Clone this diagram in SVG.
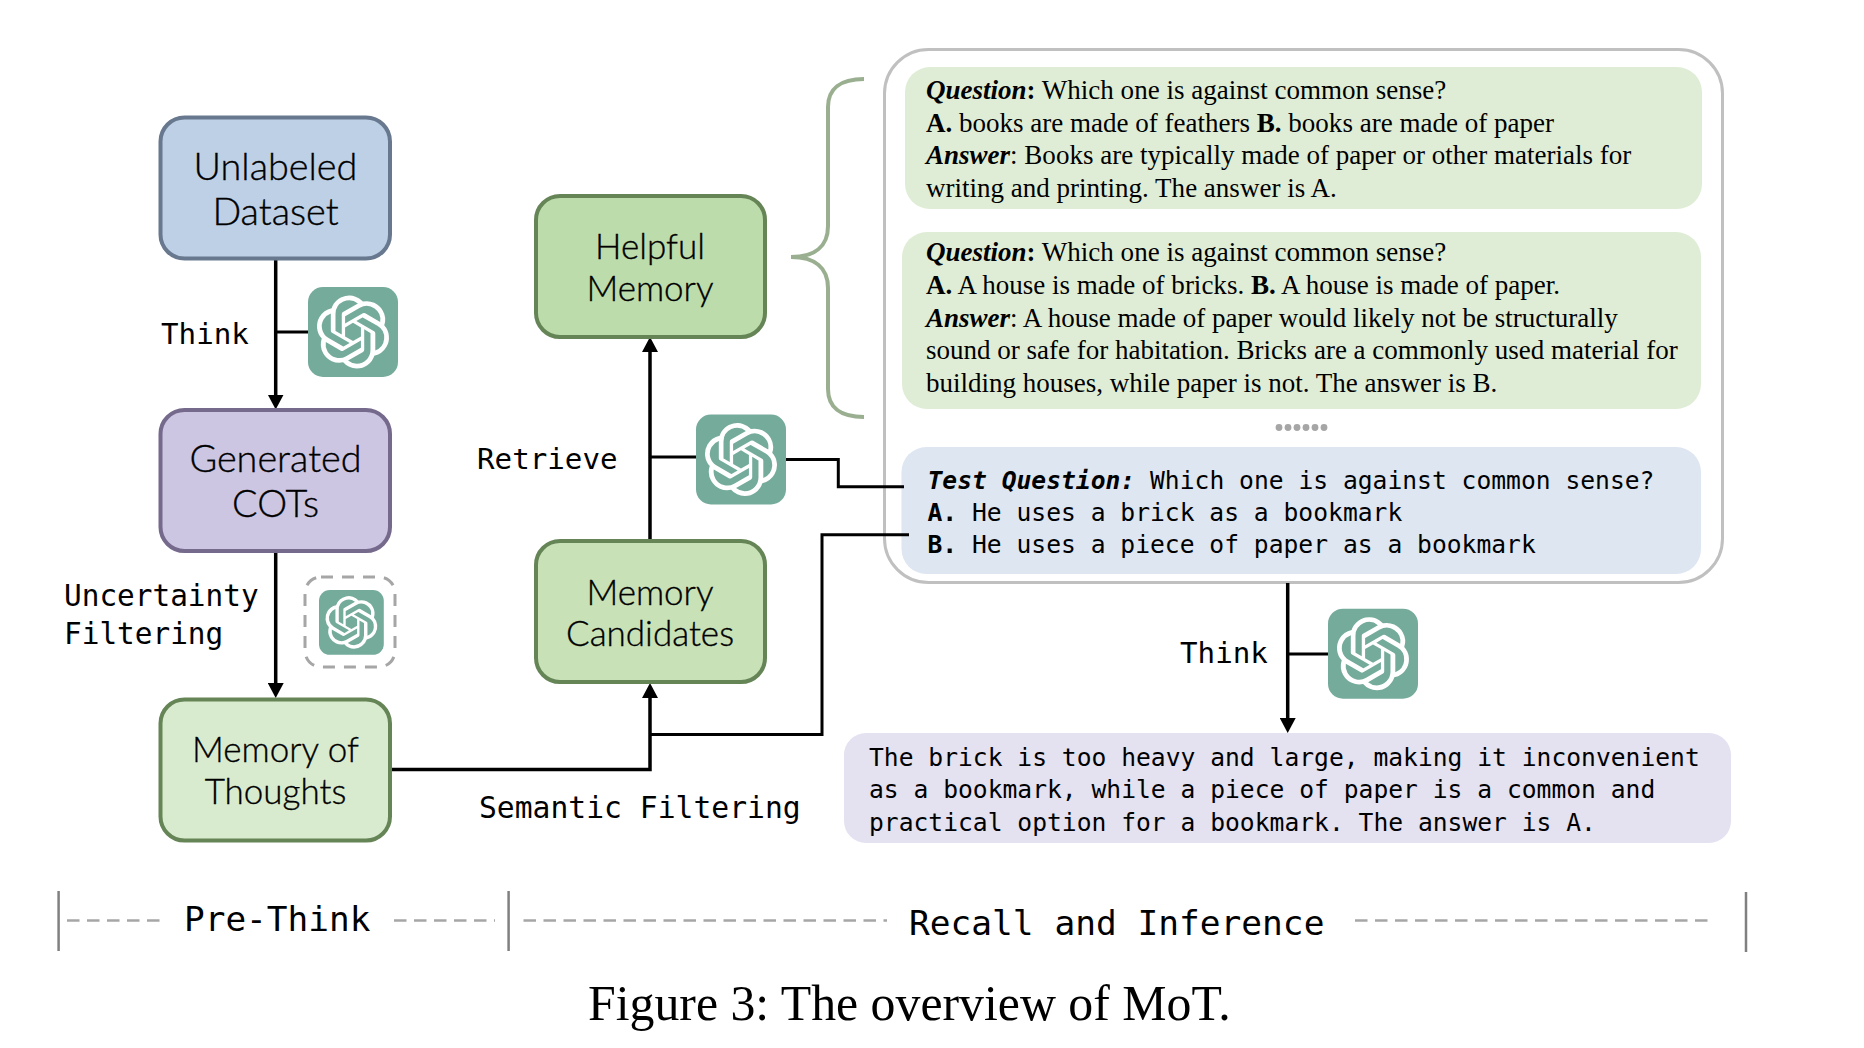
<svg xmlns="http://www.w3.org/2000/svg" xmlns:xlink="http://www.w3.org/1999/xlink" width="1864" height="1048" viewBox="0 0 1864 1048">
<style>
.node{stroke-width:4}
.nt{font-family:"Lato","Noto Sans",sans-serif;font-weight:300;fill:#000;stroke:#000;stroke-width:.35;text-anchor:middle}
.lb{font-family:"DejaVu Sans Mono",monospace;font-size:29.2px;fill:#000}
.se{font-family:"Liberation Serif",serif;font-size:27.03px;fill:#000}
.mo{font-family:"DejaVu Sans Mono",monospace;font-size:24.65px;fill:#000}
.b{font-weight:700}
.bi{font-weight:700;font-style:italic}
.cn{fill:none;stroke:#000;stroke-width:3}
.ar{fill:none;stroke:#000;stroke-width:3.5}
.tick{stroke:#808080;stroke-width:2.5}
.dash{stroke:#a6a6a6;stroke-width:2.5;stroke-dasharray:12.5 7.5;fill:none}
</style>
<defs>
<marker id="head" markerUnits="userSpaceOnUse" markerWidth="16" markerHeight="16" refX="7" refY="8" orient="auto"><path d="M0 0L15 8L0 16Z" fill="#000"/></marker>
<g id="gpt">
<rect width="90" height="90" rx="15" fill="#75ab9b"/>
<path transform="translate(8.5,8.5) scale(3.04)" fill="#fff" d="M22.2819 9.8211a5.9847 5.9847 0 0 0-.5157-4.9108 6.0462 6.0462 0 0 0-6.5098-2.9A6.0651 6.0651 0 0 0 4.9807 4.1818a5.9847 5.9847 0 0 0-3.9977 2.9 6.0462 6.0462 0 0 0 .7427 7.0966 5.98 5.98 0 0 0 .511 4.9107 6.051 6.051 0 0 0 6.5146 2.9001A5.9847 5.9847 0 0 0 13.2599 24a6.0557 6.0557 0 0 0 5.7718-4.2058 5.9894 5.9894 0 0 0 3.9977-2.9001 6.0557 6.0557 0 0 0-.7475-7.0729zm-9.022 12.6081a4.4755 4.4755 0 0 1-2.8764-1.0408l.1419-.0804 4.7783-2.7582a.7948.7948 0 0 0 .3927-.6813v-6.7369l2.02 1.1686a.071.071 0 0 1 .038.052v5.5826a4.504 4.504 0 0 1-4.4945 4.4944zm-9.6607-4.1254a4.4708 4.4708 0 0 1-.5346-3.0137l.142.0852 4.783 2.7582a.7712.7712 0 0 0 .7806 0l5.8428-3.3685v2.3324a.0804.0804 0 0 1-.0332.0615L9.74 19.9502a4.4992 4.4992 0 0 1-6.1408-1.6464zM2.3408 7.8956a4.485 4.485 0 0 1 2.3655-1.9728V11.6a.7664.7664 0 0 0 .3879.6765l5.8144 3.3543-2.0201 1.1685a.0757.0757 0 0 1-.071 0l-4.8303-2.7865A4.504 4.504 0 0 1 2.3408 7.872zm16.5963 3.8558L13.1038 8.364 15.1192 7.2a.0757.0757 0 0 1 .071 0l4.8303 2.7913a4.4944 4.4944 0 0 1-.6765 8.1042v-5.6772a.79.79 0 0 0-.407-.667zm2.0107-3.0231l-.142-.0852-4.7735-2.7818a.7759.7759 0 0 0-.7854 0L9.409 9.2297V6.8974a.0662.0662 0 0 1 .0284-.0615l4.8303-2.7866a4.4992 4.4992 0 0 1 6.6802 4.66zM8.3065 12.863l-2.02-1.1638a.0804.0804 0 0 1-.038-.0567V6.0742a4.4992 4.4992 0 0 1 7.3757-3.4537l-.142.0805L8.704 5.459a.7948.7948 0 0 0-.3927.6813zm1.0976-2.3654l2.602-1.4998 2.6069 1.4998v2.9994l-2.5974 1.4997-2.6067-1.4997Z"/>
</g>
</defs>
<rect width="1864" height="1048" fill="#fff"/>

<g id="brace"><path d="M864 79C840 79 828 89 828 107L828 226C828 246 815 257 791 257C815 257 828 268 828 288L828 389C828 407 840 417 864 417" fill="none" stroke="#9aaf90" stroke-width="4"/></g>

<g id="context-panel"><rect x="884.5" y="49.5" width="838" height="533" rx="44" fill="#fff" stroke="#c0c0c0" stroke-width="3"/></g>

<g id="example-1"><rect x="905" y="67" width="797" height="142" rx="25" fill="#dfedd6"/>
<text class="se" x="926" y="99"><tspan class="bi">Question</tspan><tspan class="b">:</tspan> Which one is against common sense?</text>
<text class="se" x="926" y="132"><tspan class="b">A.</tspan> books are made of feathers <tspan class="b">B.</tspan> books are made of paper</text>
<text class="se" x="926" y="164"><tspan class="bi">Answer</tspan>: Books are typically made of paper or other materials for</text>
<text class="se" x="926" y="197">writing and printing. The answer is A.</text></g>

<g id="example-2"><rect x="902" y="232" width="799" height="177" rx="25" fill="#dfedd6"/>
<text class="se" x="926" y="261"><tspan class="bi">Question</tspan><tspan class="b">:</tspan> Which one is against common sense?</text>
<text class="se" x="926" y="294"><tspan class="b">A.</tspan> A house is made of bricks. <tspan class="b">B.</tspan> A house is made of paper.</text>
<text class="se" x="926" y="326.5"><tspan class="bi">Answer</tspan>: A house made of paper would likely not be structurally</text>
<text class="se" x="926" y="359">sound or safe for habitation. Bricks are a commonly used material for</text>
<text class="se" x="926" y="391.5">building houses, while paper is not. The answer is B.</text></g>

<g id="dots" fill="#a6a6a6"><circle cx="1279" cy="427.5" r="3.4"/><circle cx="1288" cy="427.5" r="3.4"/><circle cx="1297" cy="427.5" r="3.4"/><circle cx="1306" cy="427.5" r="3.4"/><circle cx="1315" cy="427.5" r="3.4"/><circle cx="1324" cy="427.5" r="3.4"/></g>

<g id="test-question"><rect x="901.5" y="447" width="799.5" height="127" rx="25" fill="#dde6f1"/>
<text class="mo" x="927.5" y="489"><tspan class="bi">Test Question:</tspan> Which one is against common sense?</text>
<text class="mo" x="927.5" y="521"><tspan class="b">A.</tspan> He uses a brick as a bookmark</text>
<text class="mo" x="927.5" y="553"><tspan class="b">B.</tspan> He uses a piece of paper as a bookmark</text></g>

<g id="answer"><rect x="844" y="733" width="887" height="110" rx="22" fill="#e4e1f0"/>
<text class="mo" x="869" y="765.5">The brick is too heavy and large, making it inconvenient</text>
<text class="mo" x="869" y="798">as a bookmark, while a piece of paper is a common and</text>
<text class="mo" x="869" y="830.5">practical option for a bookmark. The answer is A.</text></g>

<g id="connectors">
<path class="ar" d="M275.7 260V401.5" marker-end="url(#head)"/>
<path class="cn" d="M275.7 332H308"/>
<path class="ar" d="M275.7 552V690" marker-end="url(#head)"/>
<path class="ar" d="M390 769.5H650V691" marker-end="url(#head)"/>
<path class="cn" d="M650 734.5H822V534.7H909"/>
<path class="ar" d="M650 540V345" marker-end="url(#head)"/>
<path class="cn" d="M650 457H696"/>
<path class="cn" d="M786 459.5H838.3V486.7H904"/>
<path class="ar" d="M1287.7 583V725" marker-end="url(#head)"/>
<path class="cn" d="M1287.7 654H1328"/>
</g>

<g id="unlabeled-dataset"><rect class="node" x="160.5" y="117.5" width="229.5" height="141" rx="24" fill="#bdd0e5" stroke="#68798f"/>
<text class="nt" font-size="37.8" x="275.5" y="180">Unlabeled</text><text class="nt" font-size="37.8" x="275.5" y="225">Dataset</text></g>
<g id="generated-cots"><rect class="node" x="160.5" y="410" width="229.5" height="141" rx="24" fill="#ccc6e3" stroke="#75698c"/>
<text class="nt" font-size="37.8" x="275.5" y="472">Generated</text><text class="nt" font-size="37.8" x="275.5" y="517">COTs</text></g>
<g id="memory-of-thoughts"><rect class="node" x="160.5" y="699.5" width="229.5" height="141" rx="24" fill="#d9ebcf" stroke="#668557"/>
<text class="nt" font-size="35" x="275.5" y="762">Memory of</text><text class="nt" font-size="35" x="275.5" y="804">Thoughts</text></g>
<g id="helpful-memory"><rect class="node" x="536" y="196" width="229" height="141" rx="24" fill="#bddcab" stroke="#668557"/>
<text class="nt" font-size="35" x="650" y="259">Helpful</text><text class="nt" font-size="35" x="650" y="301">Memory</text></g>
<g id="memory-candidates"><rect class="node" x="536" y="541" width="229" height="141" rx="24" fill="#c8e1b7" stroke="#668557"/>
<text class="nt" font-size="35" x="650" y="605">Memory</text><text class="nt" font-size="35" x="650" y="646">Candidates</text></g>

<g id="llm-think"><use href="#gpt" x="308" y="287"/></g>
<g id="llm-retrieve"><use href="#gpt" x="696" y="414.5"/></g>
<g id="llm-inference"><use href="#gpt" x="1328" y="608.7"/></g>
<g id="llm-optional"><rect x="305" y="577" width="90" height="90" rx="16" fill="none" stroke="#a6a6a6" stroke-width="3" stroke-dasharray="12 9"/><use href="#gpt" transform="translate(319 590) scale(.72)"/></g>

<g id="labels">
<text class="lb" x="161" y="344">Think</text>
<text class="lb" x="477" y="469">Retrieve</text>
<text class="lb" x="64" y="606" style="font-size:29.4px">Uncertainty</text>
<text class="lb" x="64" y="644" style="font-size:29.4px">Filtering</text>
<text class="lb" x="479" y="818" style="font-size:29.7px">Semantic Filtering</text>
<text class="lb" x="1180" y="663">Think</text>
</g>

<g id="phase-bar">
<path class="tick" d="M58.6 891V951M508.6 891V951M1746 892V952"/>
<path class="dash" d="M67 920.5H164M394 920.5H495M523.5 920.5H887M1355 920.5H1708"/>
<text class="lb" x="184" y="931" style="font-size:34.4px">Pre-Think</text>
<text class="lb" x="909" y="935" style="font-size:34.5px">Recall and Inference</text>
</g>
<text id="caption" x="588" y="1020" font-family="Liberation Serif,serif" font-size="49.8" fill="#000">Figure 3: The overview of MoT.</text>
</svg>
